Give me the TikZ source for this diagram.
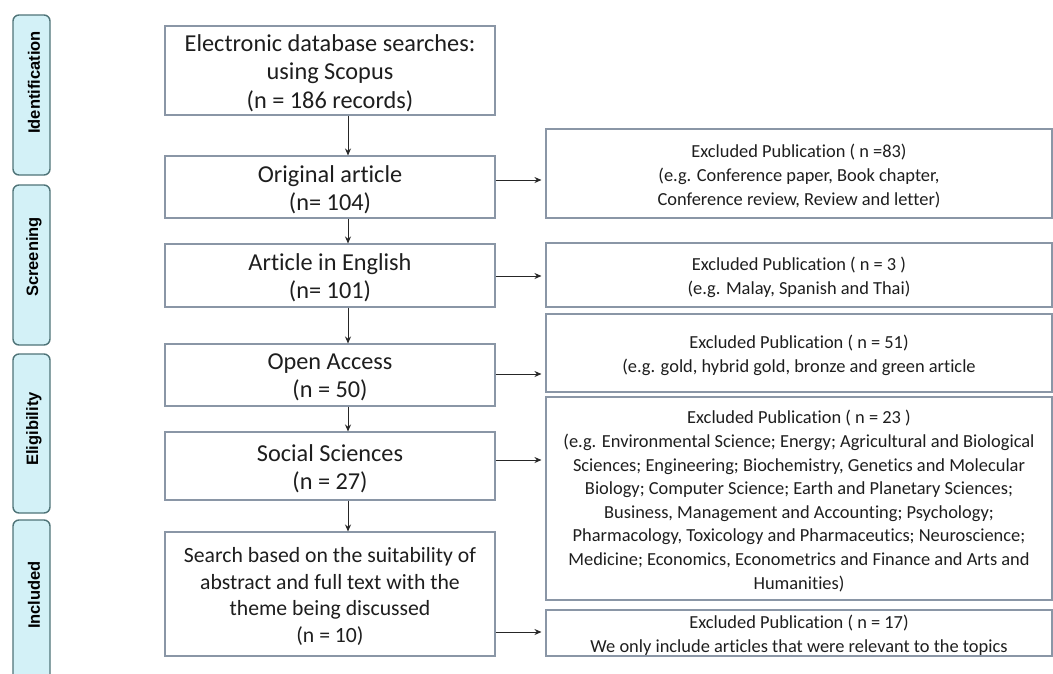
\documentclass[tikz,border=0pt]{standalone}
\usepackage{fontspec}
\setmainfont{Carlito}[Ligatures={NoCommon}]
\newfontfamily\tabfont{Liberation Sans}
\usetikzlibrary{arrows.meta}
\definecolor{boxline}{HTML}{8A96A6}
\definecolor{tabfill}{HTML}{D3F1F7}
\definecolor{tabline}{HTML}{4F7478}
\definecolor{txt}{HTML}{1E1E1E}
\begin{document}
\begin{tikzpicture}[x=1pt,y=-1pt,
  mainbox/.style={draw=boxline,line width=1.1pt,fill=white,minimum width=330pt,inner sep=0pt},
  sidebox/.style={draw=boxline,line width=1.1pt,fill=white,minimum width=506pt,inner sep=0pt},
  mtext/.style={align=center,text=txt,inner sep=0pt,yshift=-2.5pt,font=\fontsize{24.3}{28.3}\selectfont},
  stext/.style={align=center,text=txt,inner sep=0pt,yshift=-2.5pt,font=\fontsize{18.4}{23.6}\selectfont},
  tabbox/.style={draw=tabline,line width=1.4pt,fill=tabfill,rounded corners=6pt,minimum width=37pt,inner sep=0pt},
  tablabel/.style={rotate=90,inner sep=0pt,text=black,font=\tabfont\bfseries\fontsize{16.5}{18}\selectfont},
  arr/.style={draw=black!85,line width=0.9pt,-{Stealth[length=7pt,width=6pt]}}]
\clip (0,0) rectangle (1053,673);
\fill[white] (0,0) rectangle (1053,673);
% phase tabs
\node[tabbox,minimum height=160pt] (t1) at (31.5,95) {};
\node[tabbox,minimum height=160pt] (t2) at (31.5,265) {};
\node[tabbox,minimum height=159pt] (t3) at (31.5,433.5) {};
\node[tabbox,minimum height=160pt] (t4) at (31.5,600) {};
\node[tablabel] (l1) at (34,82.5) {Identification};
\node[tablabel] (l2) at (34,257) {Screening};
\node[tablabel] (l3) at (34,429) {Eligibility};
\node[tablabel] (l4) at (34,595) {Included};
% main boxes
\node[mainbox,minimum height=89pt,label={[mtext]center:{Electronic database searches:\\using Scopus\\(n = 186 records)}}] (b1) at (330,70.5) {};
\node[mainbox,minimum height=62pt,label={[mtext]center:{Original article\\(n= 104)}}] (b2) at (330,187) {};
\node[mainbox,minimum height=63pt,label={[mtext]center:{Article in English\\(n= 101)}}] (b3) at (330,275.5) {};
\node[mainbox,minimum height=62pt,label={[mtext]center:{Open Access\\(n = 50)}}] (b4) at (330,375) {};
\node[mainbox,minimum height=68pt,label={[mtext]center:{Social Sciences\\(n = 27)}}] (b5) at (330,466) {};
\node[mainbox,minimum height=124pt,label={[mtext,font=\fontsize{21.7}{26.7}\selectfont]center:{Search based on the suitability of\\abstract and full text with the\\theme being discussed\\(n = 10)}}] (b6) at (330,594) {};
% side boxes
\node[sidebox,minimum height=89pt,label={[stext]center:{Excluded Publication ( n =83)\\(e.g. Conference paper, Book chapter,\\Conference review, Review and letter)}}] (r1) at (799,173.5) {};
\node[sidebox,minimum height=64pt,label={[stext]center:{Excluded Publication ( n = 3 )\\(e.g. Malay, Spanish and Thai)}}] (r2) at (799,275) {};
\node[sidebox,minimum height=78pt,label={[stext]center:{Excluded Publication ( n = 51)\\(e.g. gold, hybrid gold, bronze and green article}}] (r3) at (799,353) {};
\node[sidebox,minimum height=203pt,label={[stext]center:{Excluded Publication ( n = 23 )\\(e.g. Environmental Science; Energy; Agricultural and Biological\\Sciences; Engineering; Biochemistry, Genetics and Molecular\\Biology; Computer Science; Earth and Planetary Sciences;\\Business, Management and Accounting; Psychology;\\Pharmacology, Toxicology and Pharmaceutics; Neuroscience;\\Medicine; Economics, Econometrics and Finance and Arts and\\Humanities)}}] (r4) at (799,498.5) {};
\node[sidebox,minimum height=46pt,label={[stext]center:{Excluded Publication ( n = 17)\\We only include articles that were relevant to the topics}}] (r5) at (799,633) {};
% helper coordinates
\coordinate (vx) at (348,0);
\coordinate (h1) at (0,180);
\coordinate (h2) at (0,276);
\coordinate (h3) at (0,374);
\coordinate (h4) at (0,460);
\coordinate (h5) at (0,632);
% vertical arrows
\draw[arr] (b1.south -| vx) -- (b2.north -| vx);
\draw[arr] (b2.south -| vx) -- (b3.north -| vx);
\draw[arr] (b3.south -| vx) -- (b4.north -| vx);
\draw[arr] (b4.south -| vx) -- (b5.north -| vx);
\draw[arr] (b5.south -| vx) -- (b6.north -| vx);
% horizontal arrows
\draw[arr] (b2.east |- h1) -- ([xshift=-4pt]r1.west |- h1);
\draw[arr] (b3.east |- h2) -- ([xshift=-4pt]r2.west |- h2);
\draw[arr] (b4.east |- h3) -- ([xshift=-4pt]r3.west |- h3);
\draw[arr] (b5.east |- h4) -- ([xshift=-4pt]r4.west |- h4);
\draw[arr] (b6.east |- h5) -- ([xshift=-4pt]r5.west |- h5);
\end{tikzpicture}
\end{document}
